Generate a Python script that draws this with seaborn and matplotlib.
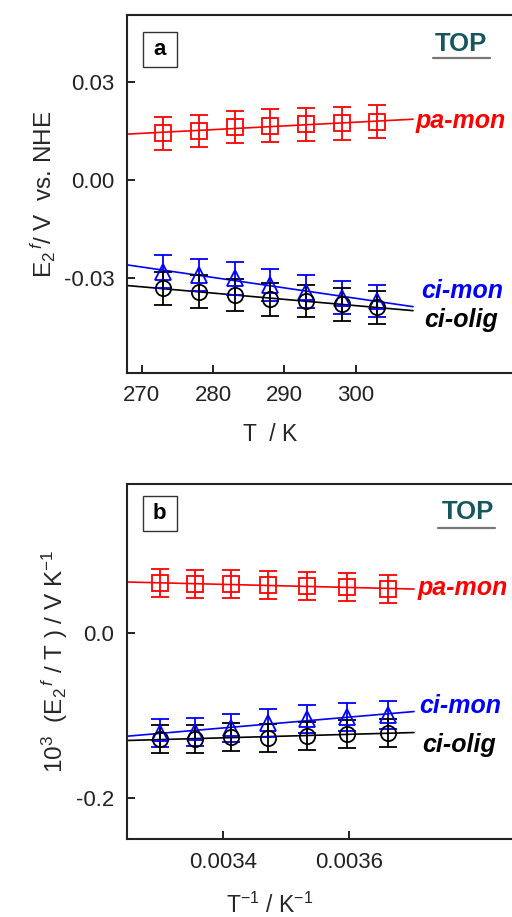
import numpy as np
import pandas as pd
import matplotlib
matplotlib.use("Agg")
import matplotlib.pyplot as plt
from matplotlib.lines import Line2D
from matplotlib.patches import Rectangle
import seaborn as sns

# ---------------- data ----------------
T = [273, 278, 283, 288, 293, 298, 303]                       # K
E_pa_mon = [0.0143, 0.0150, 0.0162, 0.0166, 0.0170, 0.0173, 0.0178]
E_ci_mon = [-0.0280, -0.0290, -0.0300, -0.0320, -0.0341, -0.0359, -0.0369]
E_ci_olig = [-0.0330, -0.0341, -0.0351, -0.0364, -0.0369, -0.0379, -0.0388]
err_a = [0.005, 0.005, 0.005, 0.005, 0.005, 0.005, 0.005]

invT = [1.0 / t for t in T]
ET_pa_mon = [0.0524, 0.0548, 0.0567, 0.0576, 0.0584, 0.0588, 0.0596]
ET_ci_mon = [-0.0997, -0.1020, -0.1040, -0.1090, -0.1150, -0.1200, -0.1210]
ET_ci_olig = [-0.1215, -0.1223, -0.1243, -0.1267, -0.1255, -0.1287, -0.1287]
err_b = [0.017, 0.017, 0.017, 0.017, 0.017, 0.017, 0.017]

series_names = ["pa-mon", "ci-mon", "ci-olig"]
colors = {"pa-mon": "#ff0000", "ci-mon": "#0000ff", "ci-olig": "#000000"}
markers = {"pa-mon": "s", "ci-mon": "^", "ci-olig": "o"}

xticks_a = [270, 280, 290, 300]
yticks_a = [-0.03, 0.00, 0.03]
xticks_b = [0.0034, 0.0036]
yticks_b = [-0.2, 0.0]

# ---------------- style ----------------
sns.set_theme(style="ticks")
plt.rcParams["font.family"] = ["Liberation Sans", "DejaVu Sans"]
plt.rcParams["mathtext.fontset"] = "custom"
plt.rcParams["mathtext.rm"] = "Liberation Sans"
plt.rcParams["mathtext.it"] = "Liberation Sans:italic"
plt.rcParams["mathtext.bf"] = "Liberation Sans:bold"

W, H = 512, 917
fig = plt.figure(figsize=(W / 100, H / 100), dpi=100)


def fx(px):
    return px / W


def fy(py):
    return 1 - py / H


AX_RIGHT = 540
ax_a = fig.add_axes([fx(126.7), fy(372.7), fx(AX_RIGHT - 126.7), (372.7 - 15) / H])
ax_b = fig.add_axes([fx(126.7), fy(839.3), fx(AX_RIGHT - 126.7), (839.3 - 484) / H])

data_a = {"pa-mon": E_pa_mon, "ci-mon": E_ci_mon, "ci-olig": E_ci_olig}
data_b = {"pa-mon": ET_pa_mon, "ci-mon": ET_ci_mon, "ci-olig": ET_ci_olig}


def draw_panel(ax, x, data, err, fit_range):
    for name in series_names:
        y = data[name]
        c = colors[name]
        coef = np.polyfit(x, y, 1)
        xf = np.linspace(fit_range[0], fit_range[1], 50)
        fit_df = pd.DataFrame({"x": xf, "y": np.polyval(coef, xf)})
        sns.lineplot(data=fit_df, x="x", y="y", ax=ax, color=c, lw=1.2,
                     legend=False, zorder=2)
        ax.errorbar(x, y, yerr=err, fmt="none", ecolor=c, elinewidth=1.3,
                    capsize=6.5, capthick=1.3, zorder=3)
        pts = pd.DataFrame({"x": x, "y": y})
        sns.lineplot(data=pts, x="x", y="y", ax=ax, color=c, linestyle="",
                     marker=markers[name], markersize=11, mfc="none", mec=c,
                     mew=1.3, legend=False, zorder=4)


draw_panel(ax_a, T, data_a, err_a, (260, 308))
draw_panel(ax_b, invT, data_b, err_b, (1 / 308, 1 / 270))

ax_a.set_xlim(267.9, 267.9 + (AX_RIGHT - 126.7) / 7.14)
ax_a.set_ylim(-0.0588, 0.0504)
ax_b.set_xlim(0.0032476, 0.0032476 + (AX_RIGHT - 126.7) / 126 * 0.0002)
ax_b.set_ylim(-0.2495, 0.1795)

ax_a.set_xticks(xticks_a)
ax_a.set_xticklabels([str(v) for v in xticks_a])
ax_a.set_yticks(yticks_a)
ax_a.set_yticklabels([f"{v:.2f}" for v in yticks_a])
ax_b.set_xticks(xticks_b)
ax_b.set_xticklabels([f"{v:.4f}" for v in xticks_b])
ax_b.set_yticks(yticks_b)
ax_b.set_yticklabels([f"{v:.1f}" for v in yticks_b])

for ax in (ax_a, ax_b):
    ax.tick_params(direction="in", length=6, width=1.4, labelsize=16,
                   colors="#222222", pad=9)
    for s in ax.spines.values():
        s.set_linewidth(1.5)
        s.set_color("#222222")
        s.set_visible(True)

label_x = (270 - 126.7) / (AX_RIGHT - 126.7)
ax_a.set_xlabel("T  / K", fontsize=16.5, labelpad=12, x=label_x)
ax_a.set_ylabel(r"E$_2$$^{\,f}$/ V  vs. NHE", fontsize=17.5, labelpad=4)
ax_b.set_xlabel(r"T$^{-1}$ / K$^{-1}$", fontsize=16.5, labelpad=14, x=label_x)
ax_b.set_ylabel(r"10$^3$  (E$_2$$^{\,f}$ / T ) / V K$^{-1}$", fontsize=17.5, labelpad=4)

# series labels
lab_a = {"pa-mon": (416, 128), "ci-mon": (421, 298), "ci-olig": (424, 327)}
lab_b = {"pa-mon": (418, 595), "ci-mon": (419, 713), "ci-olig": (422, 752)}
for labs in (lab_a, lab_b):
    for name, (px, py) in labs.items():
        fig.text(fx(px), fy(py), name, color=colors[name], fontsize=18,
                 fontweight="bold", fontstyle="italic", ha="left", va="baseline")

# panel boxes and TOP labels
for letter, (bx0, by0, bx1, by1), (tx, ty), (ux0, ux1, uy) in [
    ("a", (142.7, 31.7, 176.7, 66.7), (435, 51), (433, 490, 57.7)),
    ("b", (142.7, 496, 176.7, 530.7), (441.7, 519), (438, 495, 527.7)),
]:
    fig.add_artist(Rectangle((fx(bx0), fy(by1)), fx(bx1 - bx0), (by1 - by0) / H,
                             transform=fig.transFigure, fill=False,
                             ec="#333333", lw=1.0))
    fig.text(fx((bx0 + bx1) / 2), fy((by0 + by1) / 2), letter, fontsize=16,
             fontweight="bold", ha="center", va="center", color="black")
    fig.text(fx(tx), fy(ty), "TOP", fontsize=18.5, fontweight="bold",
             color="#15575d", ha="left", va="baseline")
    fig.add_artist(Line2D([fx(ux0), fx(ux1)], [fy(uy), fy(uy)],
                          transform=fig.transFigure, color="#777777", lw=1.6))

fig.savefig("out.png", dpi=100)
